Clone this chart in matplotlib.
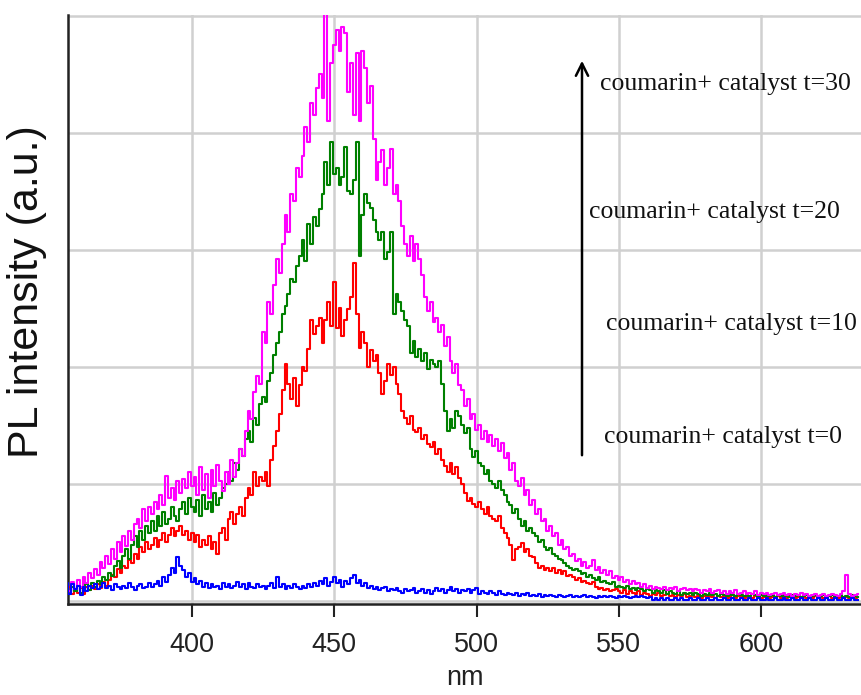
import numpy as np
import matplotlib
matplotlib.use("Agg")
import matplotlib.pyplot as plt

# wavelength axis (nm), 1 nm steps 356..634
wavelength = np.arange(356, 635, 1)

t30_magenta = [
    0.14, 0.08, 0.16, 0.10, 0.18, 0.12, 0.20, 0.15, 0.24, 0.19,
    0.27, 0.22, 0.33, 0.28, 0.38, 0.31, 0.44, 0.36, 0.50, 0.42,
    0.55, 0.47, 0.60, 0.52, 0.66, 0.70, 0.62, 0.78, 0.68, 0.80,
    0.74, 0.84, 0.78, 0.90, 0.82, 1.07, 0.88, 0.96, 0.86, 1.02,
    0.92, 1.04, 0.96, 1.10, 0.98, 1.06, 0.90, 1.14, 0.95, 1.08,
    0.88, 1.12, 0.98, 1.16, 1.02, 0.94, 1.10, 1.00, 1.20, 1.06,
    1.18, 1.30, 1.24, 1.45, 1.62, 1.55, 1.78, 1.92, 1.85, 2.30,
    2.20, 2.55, 2.45, 2.70, 2.92, 2.80, 3.05, 3.30, 3.15, 3.48,
    3.42, 3.70, 3.62, 3.80, 4.05, 3.92, 4.25, 4.15, 4.38, 4.50,
    4.30, 5.02, 4.10, 4.60, 4.75, 4.88, 4.70, 4.90, 4.85, 4.35,
    4.60, 4.15, 4.68, 4.10, 4.70, 4.55, 4.25, 4.40, 3.95, 3.60,
    3.75, 3.85, 3.55, 3.70, 3.86, 3.48, 3.55, 3.42, 3.20, 3.05,
    2.95, 3.12, 2.90, 3.05, 2.92, 2.78, 2.60, 2.48, 2.55, 2.38,
    2.42, 2.30, 2.36, 2.18, 2.25, 2.05, 1.95, 2.02, 1.84, 1.80,
    1.66, 1.72, 1.55, 1.60, 1.46, 1.50, 1.38, 1.45, 1.36, 1.42,
    1.32, 1.38, 1.28, 1.35, 1.22, 1.26, 1.12, 1.18, 1.02, 0.98,
    1.05, 0.90, 0.95, 0.82, 0.86, 0.74, 0.78, 0.68, 0.70, 0.60,
    0.64, 0.55, 0.58, 0.48, 0.52, 0.44, 0.46, 0.38, 0.40, 0.34,
    0.36, 0.30, 0.33, 0.28, 0.30, 0.35, 0.26, 0.29, 0.24, 0.26,
    0.22, 0.25, 0.19, 0.21, 0.18, 0.20, 0.16, 0.18, 0.14, 0.17,
    0.14, 0.15, 0.12, 0.14, 0.11, 0.13, 0.10, 0.12, 0.11, 0.10,
    0.12, 0.09, 0.11, 0.10, 0.12, 0.08, 0.10, 0.11, 0.09, 0.10,
    0.08, 0.10, 0.09, 0.07, 0.09, 0.08, 0.10, 0.07, 0.08, 0.09,
    0.07, 0.08, 0.06, 0.08, 0.07, 0.09, 0.06, 0.07, 0.08, 0.06,
    0.07, 0.06, 0.08, 0.05, 0.07, 0.06, 0.07, 0.05, 0.06, 0.07,
    0.05, 0.06, 0.07, 0.05, 0.06, 0.04, 0.06, 0.05, 0.07, 0.05,
    0.06, 0.04, 0.05, 0.06, 0.04, 0.05, 0.06, 0.04, 0.05, 0.06,
    0.05, 0.04, 0.06, 0.08, 0.22, 0.06, 0.04, 0.05, 0.06,
]

t20_green = [
    0.10, 0.06, 0.12, 0.08, 0.13, 0.07, 0.11, 0.14, 0.09, 0.15,
    0.12, 0.17, 0.14, 0.20, 0.18, 0.24, 0.21, 0.30, 0.34, 0.28,
    0.38, 0.44, 0.36, 0.48, 0.55, 0.46, 0.60, 0.52, 0.64, 0.58,
    0.68, 0.60, 0.72, 0.64, 0.76, 0.66, 0.70, 0.80, 0.72, 0.68,
    0.78, 0.84, 0.74, 0.88, 0.80, 0.76, 0.86, 0.72, 0.90, 0.78,
    0.84, 0.76, 0.92, 0.82, 0.88, 0.96, 1.00, 1.10, 1.02, 1.18,
    1.12, 1.30, 1.24, 1.38, 1.45, 1.36, 1.56, 1.50, 1.68, 1.74,
    1.70, 1.88, 1.95, 2.10, 2.20, 2.30, 2.45, 2.52, 2.62, 2.75,
    2.72, 2.86, 2.95, 3.08, 2.90, 3.22, 3.05, 3.28, 3.20, 3.35,
    3.48, 3.75, 3.55, 3.92, 3.65, 3.70, 3.55, 3.62, 3.88, 3.50,
    3.48, 3.60, 3.92, 2.95, 3.30, 3.48, 3.40, 3.36, 3.25, 3.15,
    3.08, 3.15, 2.92, 2.98, 3.15, 2.45, 2.62, 2.55, 2.48, 2.40,
    2.35, 2.12, 2.22, 2.08, 2.15, 2.05, 2.12, 1.98, 2.06, 2.02,
    2.00, 2.05, 1.85, 1.62, 1.45, 1.55, 1.48, 1.62, 1.58, 1.50,
    1.43, 1.48, 1.30, 1.23, 1.28, 1.18, 1.15, 1.08, 1.12, 1.02,
    1.00, 0.96, 1.02, 0.95, 0.90, 0.84, 0.82, 0.75, 0.78, 0.70,
    0.64, 0.68, 0.60, 0.62, 0.58, 0.55, 0.50, 0.52, 0.46, 0.43,
    0.45, 0.40, 0.38, 0.36, 0.35, 0.32, 0.30, 0.28, 0.26, 0.27,
    0.25, 0.23, 0.24, 0.20, 0.22, 0.19, 0.18, 0.20, 0.16, 0.17,
    0.15, 0.14, 0.16, 0.12, 0.13, 0.12, 0.11, 0.13, 0.10, 0.11,
    0.09, 0.11, 0.10, 0.08, 0.10, 0.09, 0.07, 0.09, 0.08, 0.07,
    0.09, 0.06, 0.08, 0.07, 0.06, 0.08, 0.05, 0.07, 0.06, 0.07,
    0.05, 0.07, 0.06, 0.04, 0.06, 0.05, 0.07, 0.05, 0.06, 0.04,
    0.06, 0.05, 0.04, 0.06, 0.05, 0.04, 0.06, 0.05, 0.04, 0.05,
    0.04, 0.06, 0.05, 0.03, 0.05, 0.04, 0.06, 0.04, 0.05, 0.03,
    0.05, 0.04, 0.06, 0.04, 0.03, 0.05, 0.04, 0.05, 0.03, 0.04,
    0.05, 0.03, 0.04, 0.05, 0.03, 0.04, 0.05, 0.03, 0.04, 0.05,
    0.03, 0.04, 0.05, 0.03, 0.04, 0.03, 0.05, 0.04, 0.03,
]

t10_red = [
    0.08, 0.12, 0.06, 0.10, 0.07, 0.11, 0.06, 0.12, 0.09, 0.13,
    0.10, 0.14, 0.11, 0.16, 0.13, 0.18, 0.22, 0.20, 0.27, 0.24,
    0.30, 0.28, 0.35, 0.32, 0.40, 0.36, 0.46, 0.42, 0.50, 0.44,
    0.48, 0.54, 0.46, 0.52, 0.58, 0.50, 0.56, 0.62, 0.55, 0.60,
    0.64, 0.56, 0.60, 0.52, 0.58, 0.50, 0.56, 0.46, 0.52, 0.48,
    0.55, 0.44, 0.50, 0.40, 0.58, 0.62, 0.52, 0.70, 0.76, 0.66,
    0.74, 0.80, 0.72, 0.88, 0.96, 0.90, 1.10, 0.98, 1.06, 1.02,
    1.10, 0.98, 1.20, 1.32, 1.45, 1.60, 1.80, 2.02, 1.85, 1.72,
    1.90, 1.66, 1.84, 2.00, 1.96, 2.15, 2.40, 2.28, 2.35, 2.42,
    2.20, 2.40, 2.55, 2.35, 2.72, 2.33, 2.50, 2.26, 2.40, 2.49,
    2.60, 2.89, 2.45, 2.16, 2.30, 2.20, 2.00, 2.14, 2.05, 2.10,
    1.95, 1.77, 1.88, 2.02, 1.93, 2.00, 1.85, 1.77, 1.62, 1.56,
    1.51, 1.58, 1.46, 1.44, 1.48, 1.38, 1.42, 1.34, 1.31, 1.36,
    1.25, 1.30, 1.20, 1.15, 1.10, 1.18, 1.08, 1.14, 1.05, 1.00,
    0.92, 0.85, 0.88, 0.83, 0.80, 0.84, 0.78, 0.74, 0.80, 0.72,
    0.70, 0.68, 0.72, 0.62, 0.58, 0.54, 0.48, 0.35, 0.44, 0.46,
    0.49, 0.42, 0.44, 0.38, 0.37, 0.32, 0.28, 0.30, 0.26, 0.28,
    0.25, 0.28, 0.24, 0.26, 0.23, 0.25, 0.21, 0.22, 0.20, 0.18,
    0.19, 0.16, 0.17, 0.15, 0.14, 0.16, 0.12, 0.10, 0.11, 0.09,
    0.10, 0.08, 0.09, 0.10, 0.08, 0.07, 0.09, 0.06, 0.08, 0.07,
    0.06, 0.08, 0.05, 0.07, 0.06, 0.04, 0.06, 0.05, 0.07, 0.04,
    0.05, 0.06, 0.04, 0.05, 0.03, 0.05, 0.04, 0.06, 0.03, 0.04,
    0.05, 0.03, 0.04, 0.02, 0.04, 0.03, 0.05, 0.03, 0.02, 0.04,
    0.03, 0.04, 0.02, 0.03, 0.05, 0.02, 0.04, 0.03, 0.02, 0.04,
    0.03, 0.02, 0.04, 0.03, 0.02, 0.03, 0.04, 0.02, 0.03, 0.02,
    0.04, 0.02, 0.03, 0.02, 0.04, 0.03, 0.02, 0.03, 0.02, 0.04,
    0.02, 0.03, 0.02, 0.04, 0.02, 0.03, 0.02, 0.03, 0.04, 0.02,
    0.03, 0.02, 0.03, 0.02, 0.03, 0.02, 0.04, 0.02, 0.03,
]

t0_blue = [
    0.15, 0.06, 0.14, 0.10, 0.13, 0.05, 0.12, 0.08, 0.13, 0.11,
    0.14, 0.10, 0.12, 0.15, 0.11, 0.13, 0.09, 0.14, 0.12, 0.10,
    0.13, 0.11, 0.15, 0.12, 0.09, 0.13, 0.14, 0.11, 0.12, 0.15,
    0.12, 0.14, 0.17, 0.13, 0.20, 0.16, 0.22, 0.28, 0.24, 0.37,
    0.30, 0.26, 0.20, 0.24, 0.16, 0.19, 0.14, 0.17, 0.12, 0.15,
    0.11, 0.14, 0.12, 0.13, 0.10, 0.15, 0.12, 0.14, 0.11, 0.13,
    0.16, 0.12, 0.14, 0.10, 0.15, 0.12, 0.11, 0.14, 0.12, 0.13,
    0.10, 0.13, 0.15, 0.11, 0.20, 0.12, 0.14, 0.10, 0.13, 0.11,
    0.14, 0.12, 0.10, 0.13, 0.11, 0.14, 0.12, 0.15, 0.13, 0.17,
    0.14, 0.19, 0.13, 0.16, 0.20, 0.15, 0.18, 0.12, 0.17, 0.14,
    0.19, 0.22, 0.15, 0.18, 0.13, 0.15, 0.11, 0.13, 0.10, 0.12,
    0.09, 0.11, 0.12, 0.08, 0.10, 0.09, 0.11, 0.08, 0.07, 0.10,
    0.08, 0.09, 0.11, 0.07, 0.08, 0.10, 0.07, 0.09, 0.06, 0.08,
    0.11, 0.08, 0.10, 0.07, 0.09, 0.12, 0.08, 0.10, 0.07, 0.09,
    0.08, 0.10, 0.07, 0.09, 0.11, 0.06, 0.08, 0.07, 0.06, 0.08,
    0.07, 0.05, 0.08, 0.06, 0.05, 0.07, 0.06, 0.05, 0.07, 0.04,
    0.06, 0.05, 0.07, 0.04, 0.05, 0.04, 0.06, 0.03, 0.05, 0.04,
    0.05, 0.04, 0.03, 0.05, 0.04, 0.03, 0.04, 0.05, 0.03, 0.04,
    0.03, 0.04, 0.05, 0.03, 0.04, 0.03, 0.02, 0.04, 0.03, 0.04,
    0.03, 0.04, 0.03, 0.02, 0.04, 0.03, 0.04, 0.03, 0.02, 0.03,
    0.04, 0.03, 0.04, 0.03, 0.02, 0.03, 0.01, 0.02, 0.01, 0.02,
    0.01, 0.02, 0.01, 0.01, 0.02, 0.01, 0.02, 0.01, 0.01, 0.02,
    0.01, 0.01, 0.02, 0.01, 0.01, 0.02, 0.01, 0.01, 0.02, 0.01,
    0.01, 0.02, 0.01, 0.01, 0.02, 0.01, 0.01, 0.02, 0.01, 0.01,
    0.02, 0.01, 0.01, 0.02, 0.01, 0.01, 0.02, 0.01, 0.01, 0.02,
    0.01, 0.01, 0.02, 0.01, 0.01, 0.02, 0.01, 0.01, 0.02, 0.01,
    0.01, 0.02, 0.01, 0.01, 0.02, 0.01, 0.01, 0.02, 0.01, 0.01,
    0.02, 0.01, 0.01, 0.02, 0.01, 0.01, 0.02, 0.01, 0.01,
]

series = [
    (t10_red, "#ff0000"),
    (t20_green, "#008000"),
    (t30_magenta, "#ff00ff"),
    (t0_blue, "#0000ff"),
]

labels = [
    "coumarin+ catalyst t=30",
    "coumarin+ catalyst t=20",
    "coumarin+ catalyst t=10",
    "coumarin+ catalyst t=0",
]

xticks = [400, 450, 500, 550, 600]

W, H = 862, 695
fig = plt.figure(figsize=(W / 100, H / 100), dpi=100)
ax = fig.add_axes([68 / W, 1 - 604 / H, 1 - 68 / W, (604 - 15) / H])

for vals, col in series:
    ax.plot(wavelength, vals, color=col, lw=1.5, zorder=3,
            drawstyle="steps-mid")

ax.set_xlim(356.4, 635.4)
ax.set_ylim(-0.028, 5.006)
ax.set_xticks(xticks)
ax.set_xticklabels([str(v) for v in xticks], fontsize=19.5, color="#222222",
                   family=["Liberation Sans", "DejaVu Sans"])
ax.set_yticks([0, 1, 2, 3, 4, 5])
ax.set_yticklabels([])
ax.tick_params(axis="y", length=0)
ax.tick_params(axis="x", direction="out", length=9, width=1.5, color="#222222", pad=11)
ax.grid(True, color="#d0d0d0", lw=1.8, zorder=0)
ax.set_axisbelow(True)
for s in ["top", "right"]:
    ax.spines[s].set_visible(False)
for s in ["left", "bottom"]:
    ax.spines[s].set_linewidth(1.8)
    ax.spines[s].set_color("#222222")

ax.set_xlabel("nm", fontsize=19.5, color="#222222", labelpad=5,
              family=["Liberation Sans", "DejaVu Sans"])

fig.text(27 / W, 1 - 292 / H, "PL intensity (a.u.)", rotation=90,
         fontsize=31, ha="center", va="center", color="#111111",
         family=["Liberation Sans", "DejaVu Sans"])

# arrow
ax.annotate("", xy=(582 / W, 1 - 58 / H), xytext=(582 / W, 1 - 458 / H),
            xycoords="figure fraction", textcoords="figure fraction",
            arrowprops=dict(arrowstyle="->", lw=1.8, color="black",
                            mutation_scale=22))

text_pos = [(600, 84), (589, 212), (606, 324), (604, 437)]
for lab, (px, py) in zip(labels, text_pos):
    fig.text(px / W, 1 - py / H, lab, fontsize=18.5, ha="left", va="center",
             color="#111111", family=["Liberation Serif", "DejaVu Serif"])

fig.savefig("out.png", dpi=100)
